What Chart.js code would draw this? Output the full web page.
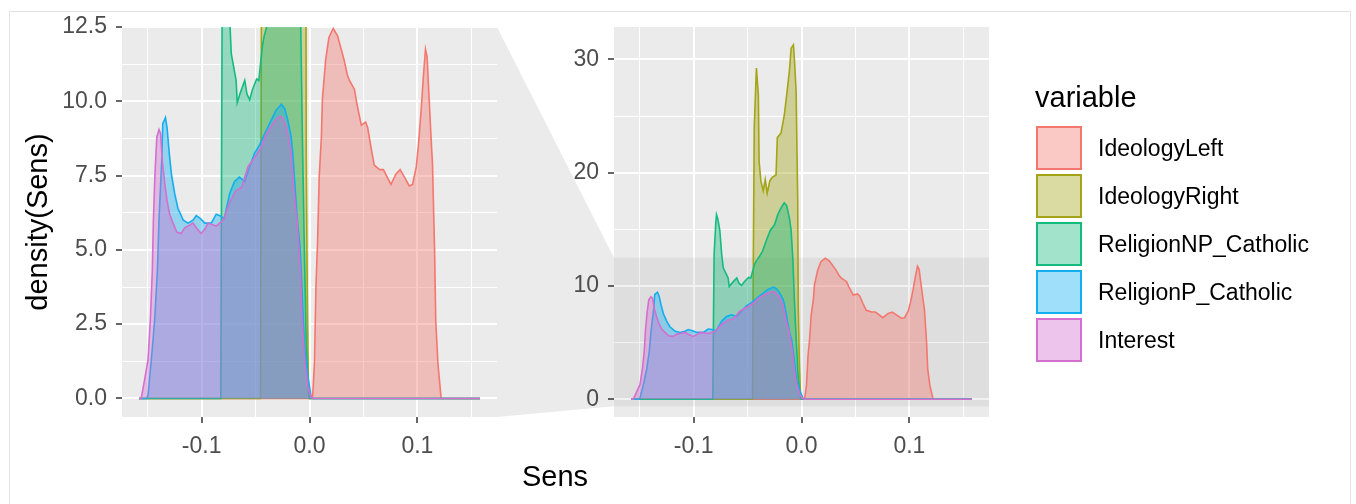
<!DOCTYPE html>
<html>
<head>
<meta charset="utf-8">
<script src="https://cdn.jsdelivr.net/npm/chart.js@4.4.1/dist/chart.umd.min.js"></script>
<style>
    body { margin: 0; background: #fff; font-family: "Liberation Sans", Arial, sans-serif; }
    #wrap { position: relative; width: 1356px; height: 504px; overflow: hidden; }
    #frame { position: absolute; left: 9px; top: 11px; width: 1342px; height: 500px; border: 1px solid #e3e3e3; box-sizing: border-box; }
    canvas { position: absolute; top: 0; }
    #bg { left: 0; }
    #zoomPanel { left: 0; }
    #fullPanel { left: 530px; }
    #xTitle { position: absolute; left: 455px; width: 200px; top: 460px; text-align: center; font-size: 29px; color: #000; }
    #legend { position: absolute; left: 1035px; top: 78px; }
    #legend .title { font-size: 29px; color: #000; height: 40px; line-height: 38px; }
    #legend .row { position: relative; height: 48px; }
    #legend .key { position: absolute; left: 1px; top: 8px; width: 46px; height: 44px; box-sizing: border-box; border: 2px solid; }
    #legend .label { position: absolute; left: 63px; top: 8px; height: 44px; line-height: 44px; font-size: 23px; color: #000; white-space: nowrap; }
</style>
</head>
<body>
<div id="wrap">
    <div id="frame"></div>
    <canvas id="bg" width="1356" height="504"></canvas>
    <canvas id="zoomPanel" width="510" height="504"></canvas>
    <canvas id="fullPanel" width="470" height="504"></canvas>
    <div id="xTitle">Sens</div>
    <div id="legend"></div>
</div>
<script>
(function () {
    "use strict";

    // density of Sens per variable, [sens, density]
    const ideology_left = [
        [-0.158, 0], [0.002, 0], [0.003, 0.1], [0.0046, 1.2], [0.006, 3.8], [0.0075, 5.3],
        [0.009, 7.45], [0.011, 8.8], [0.012, 10.1], [0.015, 11.4], [0.018, 12.15], [0.022, 12.45],
        [0.026, 12.2], [0.029, 11.8], [0.032, 11.4], [0.035, 10.9], [0.037, 10.7], [0.0417, 10.4],
        [0.044, 9.9], [0.048, 9.2], [0.052, 9.3], [0.054, 9.1], [0.057, 8.45], [0.06, 7.85],
        [0.065, 7.7], [0.0685, 7.7], [0.072, 7.45], [0.0755, 7.2], [0.08, 7.55], [0.084, 7.7],
        [0.088, 7.45], [0.0925, 7.15], [0.0955, 7.2], [0.099, 7.8], [0.101, 8.55], [0.1035, 9.7],
        [0.1055, 10.8], [0.1075, 11.75], [0.109, 11.5], [0.111, 10.0], [0.113, 8.55], [0.114, 7.9],
        [0.116, 4.9], [0.117, 2.65], [0.119, 1.2], [0.122, 0], [0.158, 0]
    ];
    const ideology_right = [
        [-0.158, 0], [-0.0453, 0], [-0.0449, 9], [-0.0438, 24], [-0.0418, 29.25], [-0.04, 26.9],
        [-0.0393, 21.0], [-0.0377, 19.3], [-0.0355, 18.4], [-0.0336, 19.4], [-0.0318, 18.2],
        [-0.0293, 19.3], [-0.0271, 19.6], [-0.0236, 19.8], [-0.0224, 23.1], [-0.019, 23.5],
        [-0.0159, 25.1], [-0.0137, 26.9], [-0.0112, 29.0], [-0.0096, 31.0], [-0.0075, 31.3],
        [-0.0065, 29.9], [-0.005, 27.2], [-0.0035, 17.5], [-0.003, 8], [-0.002, 3.3],
        [-0.001, 0.5], [0, 0], [0.158, 0]
    ];
    const religion_np_catholic = [
        [-0.158, 0], [-0.0822, 0], [-0.0815, 8], [-0.081, 12.8], [-0.0795, 15.5], [-0.0788, 16.3],
        [-0.0775, 15.9], [-0.0757, 14.9], [-0.074, 12.8], [-0.0725, 11.6], [-0.071, 11.3],
        [-0.068, 10.7], [-0.067, 9.95], [-0.0645, 10.25], [-0.06, 10.7], [-0.058, 10.25],
        [-0.0555, 10.05], [-0.0528, 10.4], [-0.049, 10.75], [-0.047, 10.7], [-0.045, 11.4],
        [-0.0435, 11.9], [-0.042, 12.2], [-0.039, 12.6], [-0.036, 13.1], [-0.0327, 14.0],
        [-0.029, 14.9], [-0.025, 15.4], [-0.022, 16.3], [-0.019, 16.9], [-0.016, 17.35],
        [-0.0137, 17.1], [-0.0112, 16.0], [-0.0096, 14.9], [-0.0081, 12.5], [-0.0065, 8.6],
        [-0.005, 5.5], [-0.003, 1.8], [-0.001, 0.2], [0, 0], [0.158, 0]
    ];
    const religion_p_catholic = [
        [-0.158, 0], [-0.151, 0], [-0.1497, 0.1], [-0.1466, 1.3], [-0.1435, 2.65], [-0.141, 4.3],
        [-0.1395, 6.0], [-0.137, 8.0], [-0.136, 9.25], [-0.1335, 9.45], [-0.132, 9.1], [-0.13, 8.25],
        [-0.128, 7.55], [-0.125, 6.9], [-0.122, 6.4], [-0.117, 6.0], [-0.1125, 5.9], [-0.108, 6.0],
        [-0.105, 6.15], [-0.101, 6.05], [-0.097, 5.9], [-0.091, 5.9], [-0.0865, 6.2], [-0.083, 6.15],
        [-0.079, 6.05], [-0.074, 6.9], [-0.0695, 7.3], [-0.065, 7.45], [-0.06, 7.3], [-0.0555, 7.8],
        [-0.051, 8.25], [-0.046, 8.55], [-0.0417, 8.9], [-0.037, 9.25], [-0.031, 9.7], [-0.026, 9.9],
        [-0.023, 9.75], [-0.02, 9.35], [-0.017, 8.8], [-0.0155, 8.25], [-0.014, 7.45], [-0.0123, 6.55],
        [-0.011, 5.9], [-0.009, 5.2], [-0.0077, 4.3], [-0.006, 2.9], [-0.0046, 1.75], [-0.0015, 0.75],
        [0.0015, 0.05], [0.003, 0], [0.158, 0]
    ];
    const interest = [
        [-0.158, 0], [-0.156, 0], [-0.153, 0.6], [-0.1497, 1.3], [-0.1475, 2.65], [-0.1457, 4.3],
        [-0.1447, 6.0], [-0.1432, 7.6], [-0.1415, 8.8], [-0.1395, 9.05], [-0.138, 8.9], [-0.1365, 8.0],
        [-0.134, 7.2], [-0.132, 6.65], [-0.1296, 6.2], [-0.1265, 5.9], [-0.123, 5.6], [-0.119, 5.55],
        [-0.1155, 5.75], [-0.1125, 5.8], [-0.108, 5.9], [-0.104, 5.7], [-0.1005, 5.55], [-0.097, 5.7],
        [-0.094, 5.9], [-0.0865, 5.8], [-0.08, 6.0], [-0.077, 6.3], [-0.074, 6.6], [-0.068, 7.0],
        [-0.063, 7.1], [-0.057, 7.8], [-0.051, 8.1], [-0.045, 8.45], [-0.04, 8.9], [-0.034, 9.25],
        [-0.0293, 9.45], [-0.026, 9.5], [-0.023, 9.3], [-0.02, 8.9], [-0.017, 8.25], [-0.0155, 7.45],
        [-0.0133, 6.55], [-0.0114, 5.9], [-0.0086, 4.3], [-0.0068, 2.65], [-0.0046, 1.3],
        [-0.0015, 0.4], [0.0015, 0.05], [0.003, 0], [0.158, 0]
    ];

    const variables = ["IdeologyLeft", "IdeologyRight", "ReligionNP_Catholic", "ReligionP_Catholic", "Interest"];
    const variable_colors = ["#F3776E", "#A3A416", "#14BB7E", "#12AEEF", "#D36FCF"];
    const series = [ideology_left, ideology_right, religion_np_catholic, religion_p_catholic, interest];

    // tick labels
    const x_ticks = [-0.15, -0.1, -0.05, 0, 0.05, 0.1, 0.15];
    const x_major = [-0.1, 0, 0.1];
    const y_ticks_zoom = [0, 1.25, 2.5, 3.75, 5, 6.25, 7.5, 8.75, 10, 11.25, 12.5];
    const y_major_zoom = [0, 2.5, 5, 7.5, 10, 12.5];
    const y_ticks_full = [0, 5, 10, 15, 20, 25, 30];
    const y_major_full = [0, 10, 20, 30];

    const x_lim = 0.1738;
    const zoom_ylim = [-0.625, 12.5];
    const full_ylim = [-1.57, 32.87];

    Chart.defaults.font.family = "'Liberation Sans', Arial, sans-serif";

    function hexAlpha(hex, a) {
        let n = parseInt(hex.slice(1), 16);
        return "rgba(" + (n >> 16) + "," + ((n >> 8) & 255) + "," + (n & 255) + "," + a + ")";
    }

    const panel_bg = {
        id: "panel_bg",
        beforeDraw: function (chart) {
            let a = chart.chartArea;
            let ctx = chart.ctx;
            ctx.save();
            ctx.fillStyle = "#EBEBEB";
            ctx.fillRect(a.left, a.top, a.right - a.left, a.bottom - a.top);
            ctx.restore();
        },
    };

    const zoom_band = {
        id: "zoom_band",
        beforeDatasetsDraw: function (chart) {
            let a = chart.chartArea;
            let y = chart.scales.y;
            let top = y.getPixelForValue(zoom_ylim[1]);
            let bottom = y.getPixelForValue(zoom_ylim[0]);
            let ctx = chart.ctx;
            ctx.save();
            ctx.fillStyle = "rgba(0,0,0,0.055)";
            ctx.fillRect(a.left, top, a.right - a.left, bottom - top);
            ctx.restore();
        },
    };

    /**
     * @description builds one panel (zoomed or full range)
     */
    function makePanel(canvas_id, ylim, y_ticks, y_major, y_fmt, y_width, right_pad, y_title, extra_plugins) {
        const datasets = series.map(function (pts, i) {
            return {
                label: variables[i],
                data: pts.map(function (p) { return { x: p[0], y: p[1] }; }),
                borderColor: variable_colors[i],
                backgroundColor: hexAlpha(variable_colors[i], 0.4),
                borderWidth: 1.6,
                pointRadius: 0,
                tension: 0,
                fill: "origin",
                order: series.length - 1 - i,
            };
        });
        const config = {
            type: "line",
            data: { datasets: datasets },
            options: {
                responsive: false,
                animation: false,
                devicePixelRatio: 1,
                layout: { padding: { top: 27, right: right_pad, left: 0, bottom: 0 } },
                plugins: { legend: { display: false }, tooltip: { enabled: false } },
                scales: {
                    x: {
                        type: "linear",
                        min: -x_lim,
                        max: x_lim,
                        afterBuildTicks: function (s) {
                            s.ticks = x_ticks.map(function (v) { return { value: v }; });
                        },
                        afterFit: function (s) { s.height = 87; },
                        ticks: {
                            autoSkip: false,
                            maxRotation: 0,
                            padding: 10,
                            color: "#4D4D4D",
                            font: { size: 23 },
                            callback: function (v) { return x_major.includes(v) ? v.toFixed(1) : ""; },
                        },
                        grid: {
                            color: "#FFFFFF",
                            lineWidth: function (c) { return c.tick && x_major.includes(c.tick.value) ? 2 : 1; },
                            tickLength: 6,
                            tickWidth: 1.5,
                            tickColor: function (c) { return c.tick && x_major.includes(c.tick.value) ? "#333333" : "rgba(0,0,0,0)"; },
                        },
                        border: { display: false },
                    },
                    y: {
                        type: "linear",
                        min: ylim[0],
                        max: ylim[1],
                        afterBuildTicks: function (s) {
                            s.ticks = y_ticks.map(function (v) { return { value: v }; });
                        },
                        afterFit: function (s) { s.width = y_width; },
                        title: {
                            display: y_title !== "",
                            text: y_title,
                            color: "#000000",
                            font: { size: 29 },
                            padding: { top: 22, bottom: 0 },
                        },
                        ticks: {
                            autoSkip: false,
                            padding: 9,
                            color: "#4D4D4D",
                            font: { size: 23 },
                            callback: function (v) { return y_major.includes(v) ? y_fmt(v) : ""; },
                        },
                        grid: {
                            color: "#FFFFFF",
                            lineWidth: function (c) { return c.tick && y_major.includes(c.tick.value) ? 2 : 1; },
                            tickLength: 6,
                            tickWidth: 1.5,
                            tickColor: function (c) { return c.tick && y_major.includes(c.tick.value) ? "#333333" : "rgba(0,0,0,0)"; },
                        },
                        border: { display: false },
                    },
                },
            },
            plugins: [panel_bg].concat(extra_plugins),
        };
        return new Chart(document.getElementById(canvas_id), config);
    }

    let zoom_chart = makePanel("zoomPanel", zoom_ylim, y_ticks_zoom, y_major_zoom,
        function (v) { return v.toFixed(1); }, 122, 13, "density(Sens)", []);
    let full_chart = makePanel("fullPanel", full_ylim, y_ticks_full, y_major_full,
        function (v) { return String(v); }, 84, 11, "", [zoom_band]);

    // shaded link between the zoomed panel and the zoomed area of the full panel
    let bg = document.getElementById("bg").getContext("2d");
    let za = zoom_chart.chartArea;
    let fa = full_chart.chartArea;
    let full_left = 530 + fa.left;
    let fy = full_chart.scales.y;
    bg.fillStyle = "#EBEBEB";
    bg.beginPath();
    bg.moveTo(za.right, za.top);
    bg.lineTo(full_left, fy.getPixelForValue(zoom_ylim[1]));
    bg.lineTo(full_left, fy.getPixelForValue(zoom_ylim[0]));
    bg.lineTo(za.right, za.bottom);
    bg.closePath();
    bg.fill();

    // legend
    let legend = document.getElementById("legend");
    let html = '<div class="title">variable</div>';
    variables.forEach(function (name, i) {
        html += '<div class="row"><div class="key" style="border-color:' + variable_colors[i] +
            ';background:' + hexAlpha(variable_colors[i], 0.4) + '"></div><div class="label">' + name + '</div></div>';
    });
    legend.innerHTML = html;
})();
</script>
</body>
</html>
